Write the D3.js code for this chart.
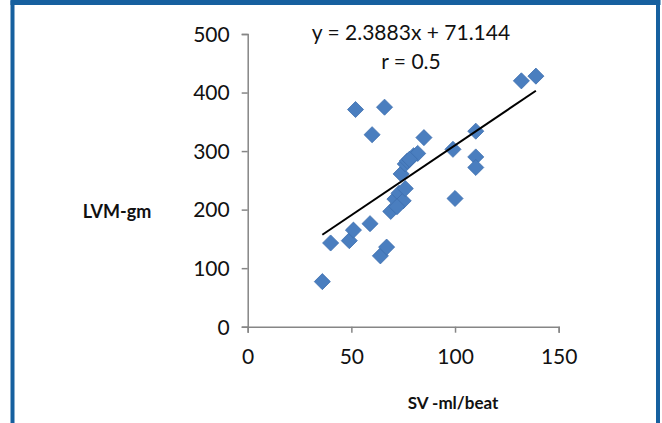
<!DOCTYPE html>
<html lang="en">
<head>
  <meta charset="UTF-8">
  <title>LVM vs SV</title>
  <script src="https://d3js.org/d3.v7.min.js"></script>
  <style>
    body { margin: 0; background: #fff; }
    text { font-family: Lato, "Open Sans", sans-serif; fill: #111; }
  </style>
</head>
<body>
<svg id="chart"></svg>
<script>
  // SV (ml/beat) and LVM (gm)
  var sv  = [36, 40, 49, 51, 52, 59, 60, 64, 67, 66, 69, 71, 73, 75, 74, 76, 77, 80, 82, 85, 99, 100, 110, 110, 110, 132, 139, 72, 76, 78];
  var lvm = [77, 143, 147, 165, 371, 176, 328, 121, 136, 375, 197, 218, 228, 215, 261, 278, 283, 292, 296, 323, 303, 219, 290, 272, 334, 420, 428, 205, 236, 286];
  var xTicks = [0, 50, 100, 150];
  var yTicks = [0, 100, 200, 300, 400, 500];
  var slope = 2.3883, intercept = 71.144;
  var eqLabel = "y = 2.3883x + 71.144";
  var rLabel = "r = 0.5";

  var width = 662, height = 423;
  var svg = d3.select('#chart').attr('width', width).attr('height', height);

  // blue frame
  svg.append('path')
    .attr('d', 'M12.5,' + height + ' V2.5 H658 V' + height)
    .attr('fill', 'none')
    .attr('stroke', '#16609f')
    .attr('stroke-width', 4);
  svg.append('rect').attr('x', 10.5).attr('y', 0).attr('width', 650).attr('height', 5).attr('fill', '#16609f');

  var x = d3.scaleLinear().domain([0, 150]).range([247.7, 558.7]);
  var y = d3.scaleLinear().domain([0, 500]).range([326.7, 34]);

  var axisColor = '#868686';

  var gx = svg.append('g').attr('transform', 'translate(0,' + y(0) + ')')
    .call(d3.axisBottom(x).tickValues(xTicks).tickSize(6).tickPadding(16));
  var gy = svg.append('g').attr('transform', 'translate(' + x(0) + ',0)')
    .call(d3.axisLeft(y).tickValues(yTicks).tickSize(6).tickPadding(12));

  [gx, gy].forEach(function(g) {
    g.select('.domain').attr('stroke', axisColor).attr('stroke-width', 1.5);
    g.selectAll('.tick line').attr('stroke', axisColor).attr('stroke-width', 1.5);
    g.selectAll('.tick text').style('font-size', '21px').style('font-family', 'Lato, sans-serif').attr('fill', '#111');
  });
  gy.selectAll('.tick text').attr('dy', '0.35em');

  // diamonds
  var pts = sv.map(function(d, i) { return [d, lvm[i]]; });
  var sym = d3.symbol().type(d3.symbolDiamond2).size(165);
  svg.append('g').selectAll('path')
    .data(pts)
    .enter()
    .append('path')
    .attr('d', sym)
    .attr('transform', function(d) { return 'translate(' + x(d[0]) + ',' + y(d[1]) + ')'; })
    .attr('fill', '#4a7ebf')
    .attr('stroke', '#3d6fae')
    .attr('stroke-width', 0.8);

  // trend line
  var xr = d3.extent(sv);
  svg.append('line')
    .attr('x1', x(xr[0])).attr('y1', y(slope * xr[0] + intercept))
    .attr('x2', x(xr[1])).attr('y2', y(slope * xr[1] + intercept))
    .attr('stroke', '#000').attr('stroke-width', 2);

  svg.append('text').attr('x', 411).attr('y', 40).attr('text-anchor', 'middle')
    .style('font-size', '21px').text(eqLabel);
  svg.append('text').attr('x', 411).attr('y', 69).attr('text-anchor', 'middle')
    .style('font-size', '21px').text(rLabel);

  svg.append('text').attr('x', 117).attr('y', 218).attr('text-anchor', 'middle')
    .style('font-size', '18px').style('font-weight', 'bold').text('LVM-gm');
  svg.append('text').attr('x', 453).attr('y', 409).attr('text-anchor', 'middle')
    .style('font-size', '17px').style('font-weight', 'bold').text('SV -ml/beat');
</script>
</body>
</html>
